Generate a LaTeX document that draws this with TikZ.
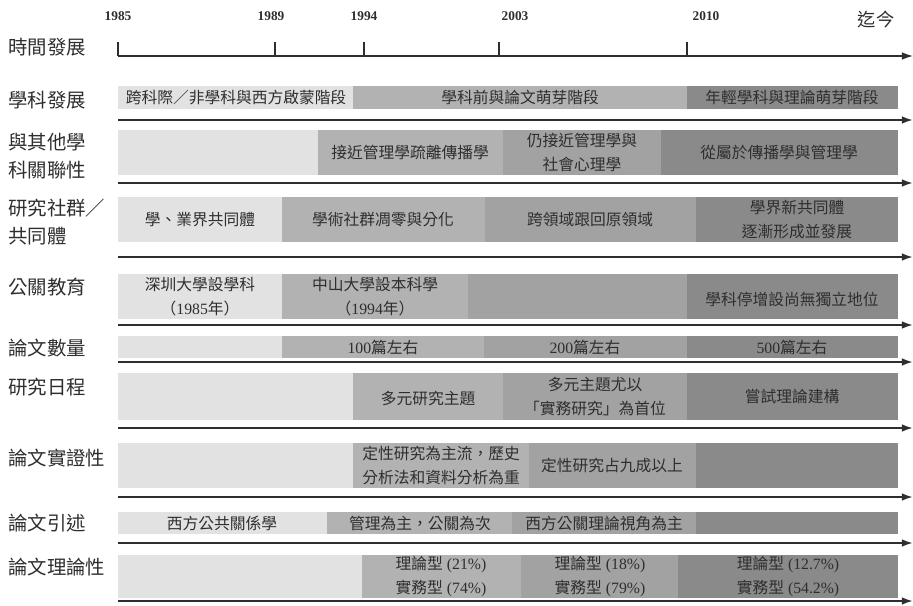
\documentclass[tikz,border=0pt]{standalone}
\usepackage{fontspec}
\setmainfont{Liberation Serif}
\newfontfamily\cjk{Noto Sans CJK TC}
\usepackage{tikz}
\usetikzlibrary{positioning,arrows.meta}
\definecolor{barA}{HTML}{E2E2E2}
\definecolor{barB}{HTML}{B2B2B2}
\definecolor{barC}{HTML}{A2A2A2}
\definecolor{barD}{HTML}{8A8A8A}
\definecolor{ink}{HTML}{2E2E2E}
\newcommand\latn[1]{{\rmfamily #1}}

\begin{document}
\begin{tikzpicture}[x=0.025cm,y=-0.025cm,
    rowlabel/.style={anchor=west,align=left,inner sep=0pt,text=ink,font=\cjk\fontsize{13.8}{20}\selectfont},
    bartext/.style={align=center,inner sep=0pt,text=ink,font=\cjk\fontsize{11.2}{17.5}\selectfont},
    yearlabel/.style={inner sep=0pt,text=ink,font=\rmfamily\bfseries\fontsize{9.5}{10}\selectfont},
    rowarrow/.style={draw=ink,line width=1.4pt,-{Latex[length=8pt,width=5.5pt]}}]
    \useasboundingbox (0,0) rectangle (913,605);

    % time axis
    \coordinate (t0) at (118,56);
    \coordinate (tend) at (913,56);
    \draw[draw=ink,line width=1pt,-{Latex[length=8pt,width=5.5pt]}] (t0) -- (tend);
    \foreach \x in {118,275,364,499,687}
        \draw[ink,line width=1pt] (\x,42) -- (\x,56);
    \node[yearlabel] (y1985) at (118,16) {1985};
    \node[yearlabel] (y1989) at (271,16) {1989};
    \node[yearlabel] (y1994) at (364,16) {1994};
    \node[yearlabel] (y2003) at (515,16) {2003};
    \node[yearlabel] (y2010) at (706,16) {2010};
    \node[inner sep=0pt,text=ink,font=\cjk\fontsize{13}{14}\selectfont] (ynow) at (876,20) {迄今};

    % row labels
    \node[rowlabel] (lblTime) at (8,47) {時間發展};
    \node[rowlabel] (lblDisc) at (8,100) {學科發展};
    \node[rowlabel] (lblRel) at (8,156) {與其他學\\科關聯性};
    \node[rowlabel] (lblComm) at (8,222) {研究社群／\\共同體};
    \node[rowlabel] (lblEdu) at (8,287) {公關教育};
    \node[rowlabel] (lblNum) at (8,348) {論文數量};
    \node[rowlabel] (lblAgenda) at (8,387) {研究日程};
    \node[rowlabel] (lblEmp) at (8,458) {論文實證性};
    \node[rowlabel] (lblCite) at (8,523) {論文引述};
    \node[rowlabel] (lblTheo) at (8,567) {論文理論性};

    % row 1
    \fill[barA] (118,86) rectangle (353,109);
    \fill[barB] (353,86) rectangle (687,109);
    \fill[barD] (687,86) rectangle (898,109);
    \node[bartext] (disc1) at (236,97.5) {跨科際／非學科與西方啟蒙階段};
    \node[bartext] (disc2) at (520,97.5) {學科前與論文萌芽階段};
    \node[bartext] (disc3) at (792,97.5) {年輕學科與理論萌芽階段};

    % row 2
    \fill[barA] (118,130) rectangle (318,175);
    \fill[barB] (318,130) rectangle (503,175);
    \fill[barC] (503,130) rectangle (661,175);
    \fill[barD] (661,130) rectangle (898,175);
    \node[bartext] (rel2) at (410,152.5) {接近管理學疏離傳播學};
    \node[bartext] (rel3) at (582,152.5) {仍接近管理學與\\社會心理學};
    \node[bartext] (rel4) at (779,152.5) {從屬於傳播學與管理學};

    % row 3
    \fill[barA] (118,197) rectangle (282,242);
    \fill[barB] (282,197) rectangle (485,242);
    \fill[barC] (485,197) rectangle (696,242);
    \fill[barD] (696,197) rectangle (898,242);
    \node[bartext] (comm1) at (200,219.5) {學、業界共同體};
    \node[bartext] (comm2) at (383,219.5) {學術社群凋零與分化};
    \node[bartext] (comm3) at (590,219.5) {跨領域跟回原領域};
    \node[bartext] (comm4) at (797,219.5) {學界新共同體\\逐漸形成並發展};

    % row 4
    \fill[barA] (118,274) rectangle (282,319);
    \fill[barB] (282,274) rectangle (468,319);
    \fill[barC] (468,274) rectangle (687,319);
    \fill[barD] (687,274) rectangle (898,319);
    \node[bartext] (edu1) at (200,296.5) {深圳大學設學科\\（\latn{1985}年）};
    \node[bartext] (edu2) at (375,296.5) {中山大學設本科學\\（\latn{1994}年）};
    \node[bartext] (edu4) at (792,299) {學科停增設尚無獨立地位};

    % row 5
    \fill[barA] (118,336) rectangle (282,358);
    \fill[barB] (282,336) rectangle (484,358);
    \fill[barC] (484,336) rectangle (687,358);
    \fill[barD] (687,336) rectangle (898,358);
    \node[bartext] (num2) at (383,347) {\latn{100}篇左右};
    \node[bartext] (num3) at (585,347) {\latn{200}篇左右};
    \node[bartext] (num4) at (792,347) {\latn{500}篇左右};

    % row 6
    \fill[barA] (118,373) rectangle (353,420);
    \fill[barB] (353,373) rectangle (503,420);
    \fill[barC] (503,373) rectangle (687,420);
    \fill[barD] (687,373) rectangle (898,420);
    \node[bartext] (agenda2) at (428,399) {多元研究主題};
    \node[bartext] (agenda3) at (595,396.5) {多元主題尤以\\「實務研究」為首位};
    \node[bartext] (agenda4) at (792,396.5) {嘗試理論建構};

    % row 7
    \fill[barA] (118,443) rectangle (353,488);
    \fill[barB] (353,443) rectangle (529,488);
    \fill[barC] (529,443) rectangle (696,488);
    \fill[barD] (696,443) rectangle (898,488);
    \node[bartext] (emp2) at (441,465.5) {定性研究為主流，歷史\\分析法和資料分析為重};
    \node[bartext] (emp3) at (612,465.5) {定性研究占九成以上};

    % row 8
    \fill[barA] (118,512) rectangle (327,534);
    \fill[barB] (327,512) rectangle (512,534);
    \fill[barC] (512,512) rectangle (696,534);
    \fill[barD] (696,512) rectangle (898,534);
    \node[bartext] (cite1) at (222,523) {西方公共關係學};
    \node[bartext] (cite2) at (420,523) {管理為主，公關為次};
    \node[bartext] (cite3) at (604,523) {西方公關理論視角為主};

    % row 9
    \fill[barA] (118,555) rectangle (362,598);
    \fill[barB] (362,555) rectangle (521,598);
    \fill[barC] (521,555) rectangle (678,598);
    \fill[barD] (678,555) rectangle (898,598);
    \node[bartext] (theo2) at (441,576.5) {理論型\latn{ (21\%)}\\實務型\latn{ (74\%)}};
    \node[bartext] (theo3) at (600,576.5) {理論型\latn{ (18\%)}\\實務型\latn{ (79\%)}};
    \node[bartext] (theo4) at (788,576.5) {理論型\latn{ (12.7\%)}\\實務型\latn{ (54.2\%)}};

    % row arrows
    \foreach \y in {120,183,257,325,362,428,497,543,601}
        \draw[rowarrow] (118,\y) -- (913,\y);
\end{tikzpicture}
\end{document}
